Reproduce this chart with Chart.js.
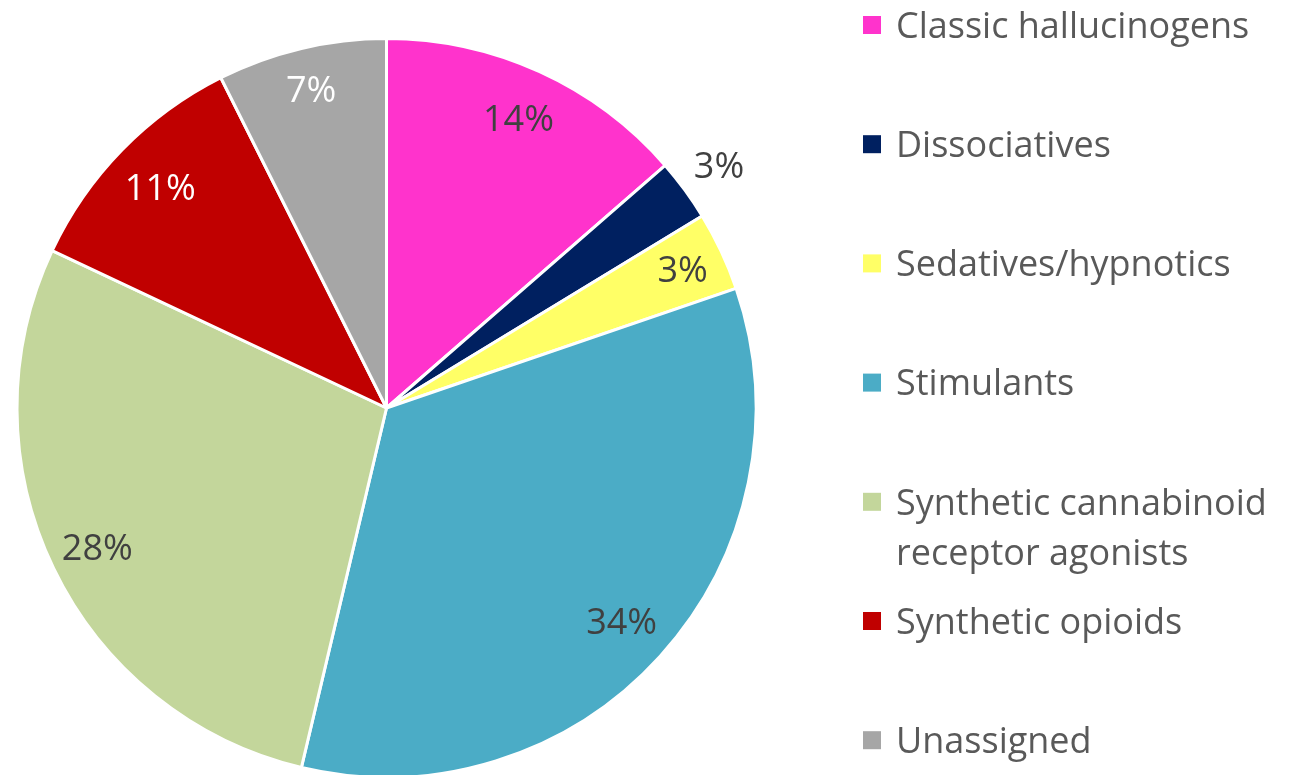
<!DOCTYPE html>
<html>
<head>
<meta charset="utf-8">
<script src="https://cdn.jsdelivr.net/npm/chart.js@4"></script>
<style>
  html, body { margin: 0; padding: 0; background: #fff; overflow: hidden; }
  #frame { width: 1304px; height: 775px; overflow: hidden; position: relative; }
  #wrap { width: 1304px; height: 800px; position: absolute; left: 0; top: 0; }
</style>
</head>
<body>
<div id="frame"><div id="wrap"><canvas id="pieChart"></canvas></div></div>
<script>
// DATA

const categories = [
  "Classic hallucinogens",
  "Dissociatives",
  "Sedatives/hypnotics",
  "Stimulants",
  "Synthetic cannabinoid receptor agonists",
  "Synthetic opioids",
  "Unassigned",
];

const shares = [13.6, 2.7, 3.45, 33.95, 28.3, 10.6, 7.4];

const sliceColors = [
  "#FF33CC",
  "#002060",
  "#FFFF66",
  "#4BACC6",
  "#C3D69B",
  "#C00000",
  "#A6A6A6",
];

const FONT = "'Open Sans', Lato, sans-serif";
const FONT_SIZE = 36;

// percent labels drawn on / outside each slice
const sliceLabels = {
  id: "sliceLabels",
  afterDatasetsDraw(chart, args, opts) {
    const ctx = chart.ctx;
    const arcs = chart.getDatasetMeta(0).data;
    ctx.save();
    ctx.font = FONT_SIZE + "px " + FONT;
    ctx.textAlign = "center";
    ctx.textBaseline = "alphabetic";
    arcs.forEach((arc, i) => {
      const mid = (arc.startAngle + arc.endAngle) / 2;
      const r = arc.outerRadius * opts.radius[i];
      const x = arc.x + Math.cos(mid) * r;
      const y = arc.y + Math.sin(mid) * r;
      ctx.fillStyle = opts.colors[i];
      ctx.fillText(Math.round(shares[i]) + "%", x, y + 12.8);
    });
    ctx.restore();
  },
};

// legend on the right, wrapped like the original
const sideLegend = {
  id: "sideLegend",
  afterDraw(chart, args, opts) {
    const ctx = chart.ctx;
    ctx.save();
    ctx.font = FONT_SIZE + "px " + FONT;
    ctx.textBaseline = "alphabetic";
    categories.forEach((name, i) => {
      const rowY = opts.top + i * opts.step;
      ctx.fillStyle = sliceColors[i];
      ctx.fillRect(opts.x, rowY - 9, 18, 18);
      // word wrap
      const words = name.split(" ");
      const lines = [];
      let line = "";
      words.forEach((w) => {
        const test = line ? line + " " + w : w;
        if (ctx.measureText(test).width > opts.maxWidth && line) {
          lines.push(line);
          line = w;
        } else {
          line = test;
        }
      });
      lines.push(line);
      ctx.fillStyle = "#595959";
      lines.forEach((l, j) => {
        ctx.fillText(l, opts.x + 33, rowY + 12.8 + j * 50);
      });
    });
    ctx.restore();
  },
};

const pieChart = document.getElementById("pieChart");

new Chart(pieChart, {
  type: "pie",
  data: {
    labels: categories,
    datasets: [
      {
        data: shares,
        backgroundColor: sliceColors,
        borderColor: "#ffffff",
        borderWidth: 3,
      },
    ],
  },
  options: {
    responsive: true,
    maintainAspectRatio: false,
    animation: false,
    layout: {
      padding: { left: 15.5, right: 546.5, top: 37, bottom: 21 },
    },
    plugins: {
      legend: { display: false },
      tooltip: { enabled: false },
      sliceLabels: {
        radius: [0.862, 1.115, 0.885, 0.859, 0.869, 0.855, 0.886],
        colors: ["#404040", "#404040", "#404040", "#404040", "#404040", "#ffffff", "#ffffff"],
      },
      sideLegend: {
        x: 863,
        top: 25,
        step: 119.2,
        maxWidth: 405,
      },
    },
  },
  plugins: [sliceLabels, sideLegend],
});
</script>
</body>
</html>
